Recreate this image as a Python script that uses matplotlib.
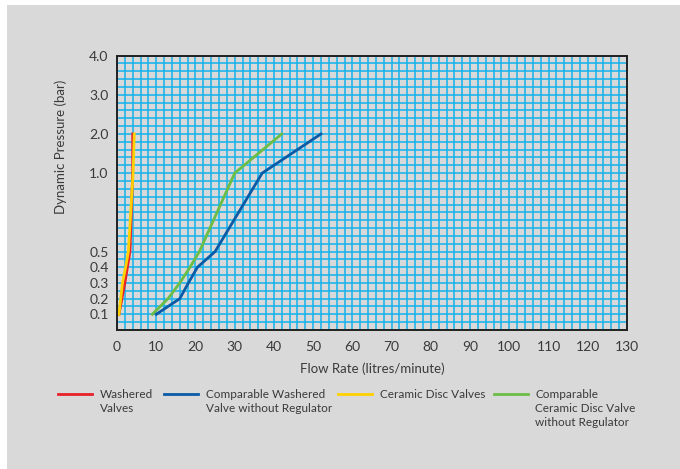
import numpy as np
import matplotlib
matplotlib.use("Agg")
import matplotlib.pyplot as plt
from matplotlib.lines import Line2D
from matplotlib.patches import Rectangle

# ---- data ----
washered_x = [0.5, 2.0, 3.3, 4.0, 4.0]
washered_y = [0.1, 0.3, 0.5, 1.0, 2.0]

ceramic_x = [0.5, 1.4, 2.2, 2.9, 4.1, 4.4]
ceramic_y = [0.1, 0.3, 0.4, 0.5, 1.0, 2.0]

comp_washered_x = [10, 16, 18.2, 20.5, 25, 37, 52]
comp_washered_y = [0.1, 0.2, 0.3, 0.4, 0.5, 1.0, 2.0]

comp_ceramic_x = [9, 13, 16, 18.6, 21, 30, 42]
comp_ceramic_y = [0.1, 0.2, 0.3, 0.4, 0.5, 1.0, 2.0]

x_ticks = list(range(0, 131, 10))
y_ticks = [0.1, 0.2, 0.3, 0.4, 0.5, 1.0, 2.0, 3.0, 4.0]
y_tick_labels = ["0.1", "0.2", "0.3", "0.4", "0.5", "1.0", "2.0", "3.0", "4.0"]

series_labels = [
    ["Washered", "Valves"],
    ["Comparable Washered", "Valve without Regulator"],
    ["Ceramic Disc Valves"],
    ["Comparable", "Ceramic Disc Valve", "without Regulator"],
]
series_colors = ["#e8202a", "#0a5aa6", "#ffd100", "#6cbd45"]

x_label = "Flow Rate (litres/minute)"
y_label = "Dynamic Pressure (bar)"

# ---- style ----
FONT = ["Lato", "DejaVu Sans"]
plt.rcParams["font.family"] = FONT
TEXT_C = "#3a3a3a"
BG = "#d9d9d9"
GRID_C = "#14b1ec"

W, H = 680, 469
fig = plt.figure(figsize=(W / 100, H / 100), dpi=100, facecolor="white")
fig.patches.append(Rectangle((7 / W, 0), 1, (H - 5) / H, transform=fig.transFigure,
                             facecolor=BG, edgecolor="none", zorder=-10))

left, right, top, bottom = 117, 627, 55.5, 330
ax = fig.add_axes([left / W, 1 - bottom / H, (right - left) / W, (bottom - top) / H])
ax.set_facecolor(BG)


def fwd(y):
    y = np.asarray(y, dtype=float)
    return np.where(y <= 1, y, 1 + (y - 1) / 4)


def inv(t):
    t = np.asarray(t, dtype=float)
    return np.where(t <= 1, t, 1 + (t - 1) * 4)


ax.set_yscale("function", functions=(fwd, inv))
ax.set_xlim(0, 130)
ax.set_ylim(0, 4)

ax.set_xticks(x_ticks)
ax.set_xticklabels([str(v) for v in x_ticks])
ax.set_yticks(y_ticks)
ax.set_yticklabels(y_tick_labels)
ax.set_xticks(np.arange(0, 131, 2), minor=True)
ax.set_yticks(np.concatenate([np.arange(0, 1, 0.05), np.arange(1, 4.001, 0.2)]), minor=True)

ax.grid(True, which="both", color=GRID_C, lw=1.1)
ax.set_axisbelow(True)
ax.tick_params(which="both", length=0)
ax.tick_params(axis="x", pad=8, labelsize=10, labelcolor=TEXT_C)
ax.tick_params(axis="y", pad=6, labelsize=10, labelcolor=TEXT_C)
for s in ax.spines.values():
    s.set_color("#222222")
    s.set_linewidth(1.4)
    s.set_zorder(5)

lw = 2.0
ax.plot(comp_ceramic_x, comp_ceramic_y, color=series_colors[3], lw=lw, zorder=3)
ax.plot(comp_washered_x, comp_washered_y, color=series_colors[1], lw=lw, zorder=3)
ax.plot(washered_x, washered_y, color=series_colors[0], lw=lw, zorder=3)
ax.plot(ceramic_x, ceramic_y, color=series_colors[2], lw=lw, zorder=4)

ax.set_xlabel(x_label, fontsize=9.5, color=TEXT_C, labelpad=7)
ax.set_ylabel(y_label, fontsize=9.5, color=TEXT_C)
ax.yaxis.set_label_coords((67 - left) / (right - left), (bottom - 147) / (bottom - top))

# ---- legend (manual, figure pixels) ----
def fx(px):
    return px / W


def fy(py):
    return 1 - py / H


legend_line_x = [(58, 92), (164, 198), (338, 372), (494, 528)]
legend_text_x = [99.5, 205.7, 380, 535]
for (x0, x1), tx, labs, col in zip(legend_line_x, legend_text_x, series_labels, series_colors):
    fig.add_artist(Line2D([fx(x0), fx(x1)], [fy(393.5), fy(393.5)], color=col, lw=2.0,
                          transform=fig.transFigure))
    for i, t in enumerate(labs):
        fig.text(fx(tx), fy(398.3 + 14 * i), t, fontsize=8.5, color=TEXT_C,
                 ha="left", va="baseline")

fig.savefig("out.png", dpi=100, facecolor="white")
